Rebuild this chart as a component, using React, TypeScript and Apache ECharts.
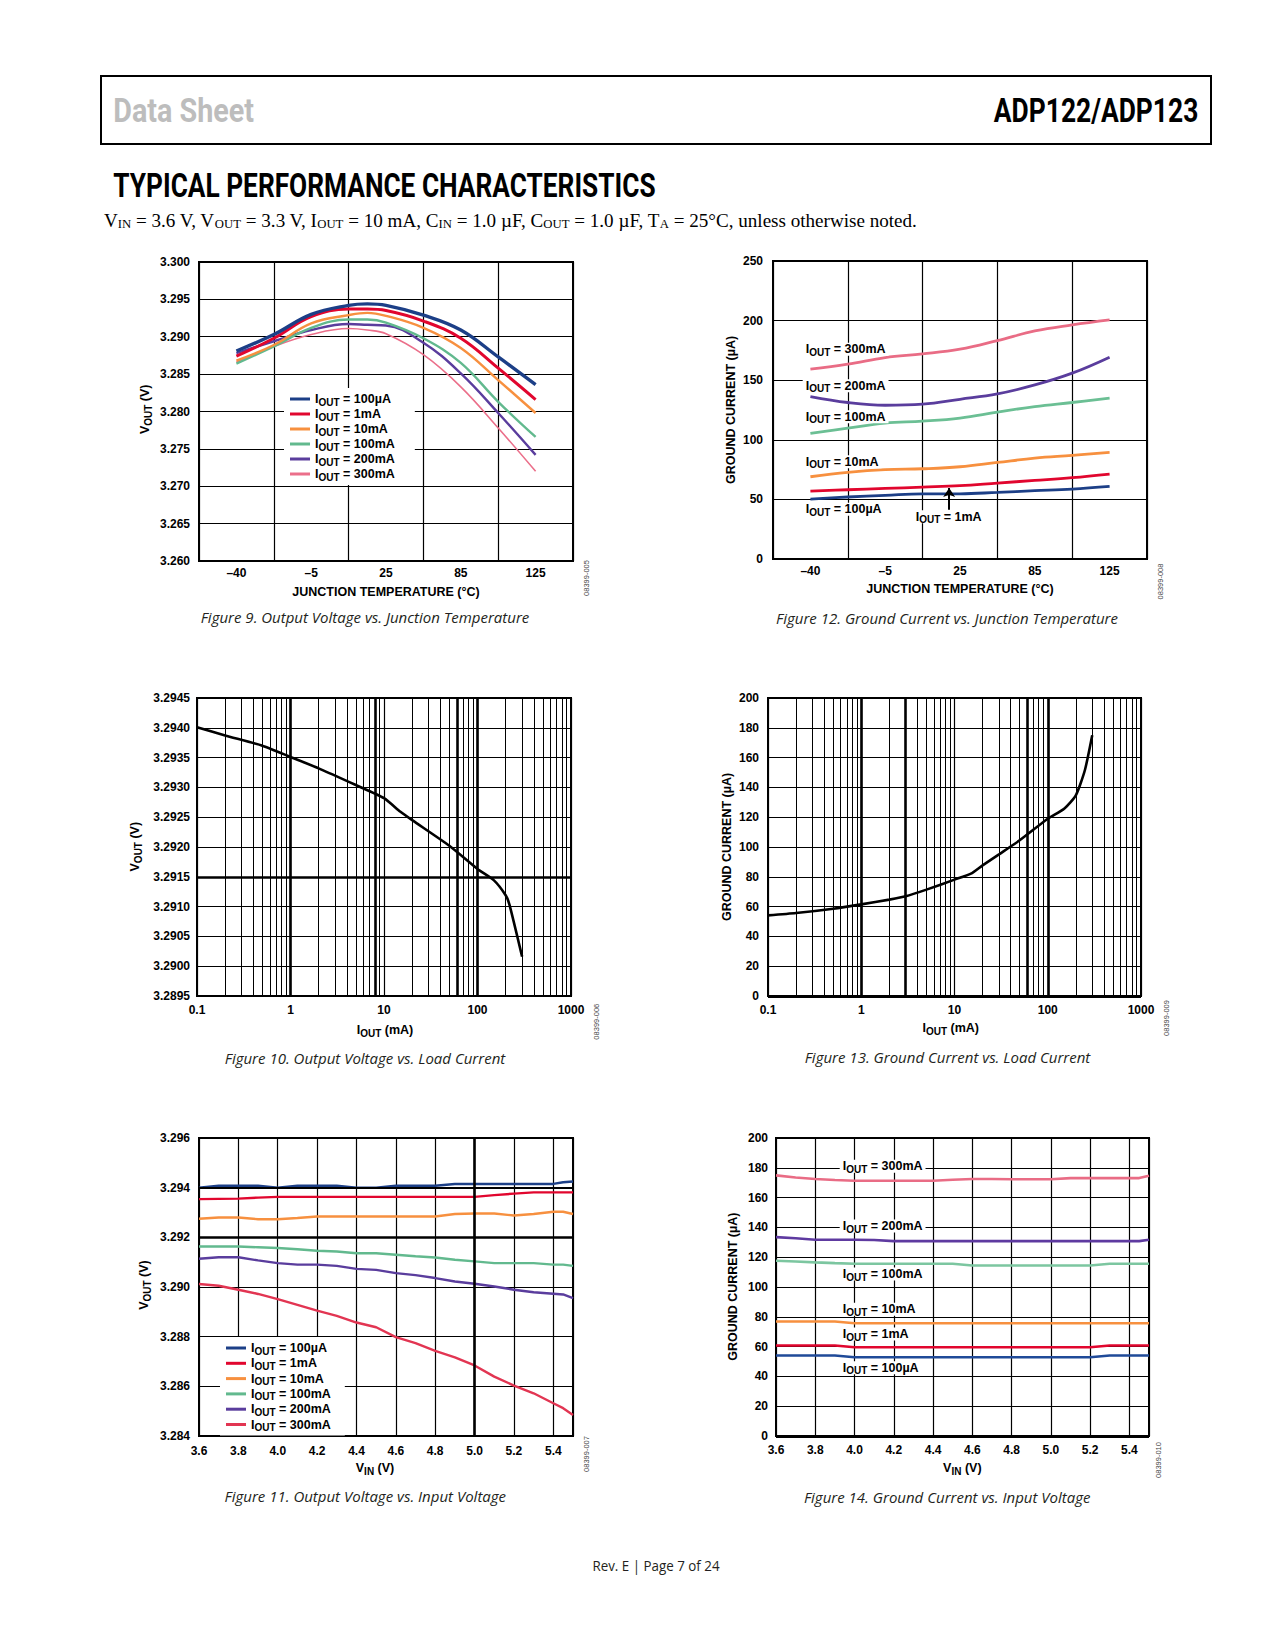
import React, { useEffect, useRef } from 'react';
import * as echarts from 'echarts';

const SANS = '"Liberation Sans", Arial, Helvetica, sans-serif';
const COND = 'Roboto, "Liberation Sans", Arial, sans-serif';
const HUM = '"Open Sans", "Noto Sans", sans-serif';
const SERIF = '"Liberation Serif", "Times New Roman", serif';

// ---------- shared ----------
const currentNames = ['100µA', '1mA', '10mA', '100mA', '200mA', '300mA'];

// ---------- Figure 9: Output Voltage vs. Junction Temperature ----------
const fig9TempLabels = ['–40', '–5', '25', '85', '125'];
const fig9Pos = [0, 0.5, 1, 1.5, 1.75, 2, 2.5, 3, 3.5, 4];
const fig9V100uA = [3.2881, 3.2903, 3.2930, 3.2942, 3.2944, 3.2942, 3.2929, 3.2909, 3.2873, 3.2836];
const fig9V1mA = [3.2874, 3.2898, 3.2927, 3.2937, 3.2937, 3.2935, 3.2921, 3.2898, 3.2858, 3.2816];
const fig9V10mA = [3.2868, 3.2889, 3.2918, 3.2929, 3.2932, 3.2928, 3.2912, 3.2885, 3.2842, 3.2798];
const fig9V100mA = [3.2864, 3.2887, 3.2912, 3.2923, 3.2923, 3.2919, 3.2898, 3.2865, 3.2813, 3.2766];
const fig9V200mA = [3.2878, 3.2894, 3.2909, 3.2917, 3.2916, 3.2915, 3.2892, 3.2851, 3.2798, 3.2742];
const fig9V300mA = [3.2866, 3.2887, 3.2903, 3.2911, 3.2909, 3.2904, 3.2876, 3.2833, 3.2778, 3.2720];

// ---------- Figure 12: Ground Current vs. Junction Temperature ----------
const fig12TempLabels = ['–40', '–5', '25', '85', '125'];
const fig12Pos = [0, 0.5, 1, 1.5, 2, 2.5, 3, 3.5, 4];
const fig12I100uA = [50.3, 52.0, 53.4, 54.7, 54.7, 55.9, 57.3, 58.7, 60.9];
const fig12I1mA = [57.0, 58.1, 59.2, 60.3, 61.5, 63.7, 65.9, 68.2, 71.2];
const fig12I10mA = [69.0, 72.6, 74.9, 75.7, 77.4, 81.0, 84.6, 86.9, 89.4];
const fig12I100mA = [105.3, 109.8, 114.0, 115.6, 118.2, 123.2, 127.9, 131.3, 134.9];
const fig12I200mA = [136.3, 131.3, 129.0, 129.9, 134.0, 138.5, 146.0, 155.9, 169.3];
const fig12I300mA = [159.2, 163.4, 169.0, 172.0, 176.0, 183.2, 191.3, 196.4, 200.6];

// ---------- Figure 10: Output Voltage vs. Load Current ----------
const fig10Iout = [0.1, 0.2, 0.5, 1, 2, 5, 10, 15, 20, 50, 100, 150, 200, 220, 300];
const fig10Vout = [3.29401, 3.29387, 3.2937, 3.29351, 3.29332, 3.29304, 3.29282, 3.29259, 3.29245, 3.29202, 3.29163, 3.29144, 3.29119, 3.29103, 3.29016];

// ---------- Figure 13: Ground Current vs. Load Current ----------
const fig13Iout = [0.1, 0.2, 0.5, 1, 2, 3, 5, 10, 15, 20, 30, 50, 100, 150, 200, 250, 300];
const fig13Ignd = [54.1, 55.7, 58.6, 61.5, 64.7, 66.9, 71.4, 78.1, 82.1, 87.7, 95.1, 104.5, 119.0, 125.7, 134.7, 151.5, 175.0];

// ---------- Figure 11 / 14: vs. Input Voltage ----------
const vinPts = [3.6, 3.7, 3.8, 3.9, 4.0, 4.1, 4.2, 4.3, 4.4, 4.5, 4.6, 4.7, 4.8, 4.9, 5.0, 5.1, 5.2, 5.3, 5.4, 5.45, 5.5];
const fig11V100uA = [3.294, 3.29408, 3.29408, 3.29408, 3.294, 3.29408, 3.29408, 3.29408, 3.294, 3.294, 3.29408, 3.29408, 3.29408, 3.29415, 3.29415, 3.29415, 3.29415, 3.29415, 3.29415, 3.29422, 3.29425];
const fig11V1mA = [3.29354, 3.29355, 3.29356, 3.2936, 3.29363, 3.29363, 3.29363, 3.29363, 3.29363, 3.29363, 3.29363, 3.29363, 3.29363, 3.29363, 3.29363, 3.2937, 3.29376, 3.29381, 3.29381, 3.29381, 3.29381];
const fig11V10mA = [3.29275, 3.2928, 3.2928, 3.29273, 3.29273, 3.29278, 3.29284, 3.29284, 3.29284, 3.29284, 3.29284, 3.29284, 3.29284, 3.29294, 3.29296, 3.29296, 3.29288, 3.29294, 3.29303, 3.29303, 3.29294];
const fig11V100mA = [3.29163, 3.29163, 3.29163, 3.2916, 3.29157, 3.29152, 3.29146, 3.29143, 3.29136, 3.29136, 3.2913, 3.29124, 3.29119, 3.2911, 3.29103, 3.29096, 3.29096, 3.29096, 3.2909, 3.2909, 3.29085];
const fig11V200mA = [3.29114, 3.2912, 3.2912, 3.29107, 3.29096, 3.2909, 3.2909, 3.29085, 3.29073, 3.29069, 3.29056, 3.29048, 3.29036, 3.29022, 3.29013, 3.29002, 3.28989, 3.28979, 3.28973, 3.2897, 3.28955];
const fig11V300mA = [3.29012, 3.29005, 3.28989, 3.28972, 3.28951, 3.28928, 3.28905, 3.28884, 3.28857, 3.28838, 3.28798, 3.28774, 3.28743, 3.28717, 3.28684, 3.28639, 3.28603, 3.28572, 3.28532, 3.28512, 3.28485];

const fig14I100uA = [54, 54, 54, 54, 52.9, 52.9, 52.9, 52.9, 52.9, 52.9, 52.9, 52.9, 52.9, 52.9, 52.9, 52.9, 52.9, 54, 54, 54, 54];
const fig14I1mA = [60.7, 60.7, 60.7, 60.7, 59.6, 59.6, 59.6, 59.6, 59.6, 59.6, 59.6, 59.6, 59.6, 59.6, 59.6, 59.6, 59.6, 60.7, 60.7, 60.7, 60.7];
const fig14I10mA = [76.8, 76.8, 76.8, 76.8, 75.7, 75.7, 75.7, 75.7, 75.7, 75.7, 75.7, 75.7, 75.7, 75.7, 75.7, 75.7, 75.7, 75.7, 75.7, 75.7, 75.7];
const fig14I100mA = [117.6, 117.1, 116.5, 116.0, 115.6, 115.6, 115.6, 115.6, 115.6, 115.6, 114.4, 114.4, 114.4, 114.4, 114.4, 114.4, 114.4, 115.6, 115.6, 115.6, 115.6];
const fig14I200mA = [133.5, 132.7, 131.7, 131.7, 131.7, 131.5, 130.8, 130.8, 130.8, 130.8, 130.8, 130.8, 130.8, 130.8, 130.8, 130.8, 130.8, 130.8, 130.8, 130.8, 131.7];
const fig14I300mA = [174.9, 173.5, 172.5, 171.8, 171.3, 171.3, 171.3, 171.3, 171.3, 172.0, 172.5, 172.5, 172.3, 172.3, 172.3, 173.1, 173.1, 173.1, 173.1, 173.1, 174.7];

// ---------- styles ----------
const NAVY = '#1c3f87';
const RED = '#e1062e';
const ORANGE = '#f7903f';
const GREEN = '#62b98e';
const PURPLE = '#5a3d9d';
const PINK = '#eb6f8a';
const CRIMSON = '#e23552';

const SPLIT = { show: true, lineStyle: { color: '#000', width: 1.2, type: 'solid' } };
const LABEL = { color: '#000', fontFamily: SANS, fontWeight: 'bold', fontSize: 12 };

const RICH = {
  a: { fontFamily: SANS, fontWeight: 'bold', fontSize: 12.5, lineHeight: 13, color: '#000', fill: '#000' },
  b: { fontFamily: SANS, fontWeight: 'bold', fontSize: 10, lineHeight: 7, padding: [6, 0, 0, 0], color: '#000', fill: '#000' },
};
const iout = (c: string) => `{a|I}{b|OUT}{a| = ${c}}`;

function line(name: string, xs: number[], ys: number[], axis: number, color: string, width: number, smooth: number | boolean, extra: any = {}) {
  return {
    type: 'line', name, xAxisIndex: axis, yAxisIndex: extra.yAxisIndex ?? 0,
    data: xs.map((x, i) => [x, ys[i]]),
    showSymbol: false, symbol: 'none', smooth, silent: true,
    lineStyle: { color, width }, itemStyle: { color },
    emphasis: { disabled: true }, z: 3,
    ...extra,
  };
}

function markLines(data: any[]) {
  return {
    silent: true, symbol: ['none', 'none'], label: { show: false }, emphasis: { disabled: true },
    precision: 8, animation: false, lineStyle: { color: '#000', width: 1, type: 'solid' }, data,
  };
}

function logMinor() {
  const out: number[] = [];
  [0.1, 1, 10, 100].forEach((d) => {
    [2, 3, 4, 5, 6, 7, 8, 9].forEach((m) => out.push(+(d * m).toPrecision(3)));
  });
  return out;
}

function T(x: number, y: number, text: string, o: any = {}) {
  const align = o.align || 'center';
  return {
    type: 'text', x, y, z: 60, silent: true,
    rotation: o.rotation || 0, scaleX: o.scaleX || 1, scaleY: o.scaleY || 1,
    style: {
      text,
      fill: o.fill || '#000',
      fontFamily: o.family || SANS,
      fontSize: o.size || 12,
      fontWeight: o.weight || 'normal',
      fontStyle: o.fstyle || 'normal',
      align, textAlign: align,
      verticalAlign: 'middle', textVerticalAlign: 'middle',
      rich: o.rich,
      backgroundColor: o.bg,
      padding: o.padding,
    },
  };
}

function buildOption() {
  const grids = [
    { left: 199, top: 262, width: 374, height: 299 },
    { left: 773, top: 261, width: 374, height: 298 },
    { left: 197, top: 698, width: 374, height: 298 },
    { left: 768, top: 698, width: 373, height: 298 },
    { left: 199, top: 1138, width: 374, height: 298 },
    { left: 776, top: 1138, width: 373, height: 298 },
  ].map((g) => ({ ...g, show: true, borderColor: '#000', borderWidth: 2, backgroundColor: 'transparent', containLabel: false }));

  const hidden = { axisLine: { show: false, onZero: false }, axisTick: { show: false } };
  const catAxis = (gi: number, data: string[]) => ({
    type: 'category', gridIndex: gi, data, position: 'bottom', boundaryGap: true,
    axisLine: { show: false }, axisTick: { show: false }, splitLine: { show: false },
    axisLabel: { ...LABEL, margin: 6, interval: 0 },
  });
  const fmtLog = (v: number) => (v < 1 ? v.toFixed(1) : String(Math.round(v)));

  const xAxis = [
    { type: 'value', gridIndex: 0, min: 0, max: 5, interval: 1, ...hidden, splitLine: SPLIT, axisLabel: { show: false } },
    catAxis(0, fig9TempLabels),
    { type: 'value', gridIndex: 1, min: 0, max: 5, interval: 1, ...hidden, splitLine: SPLIT, axisLabel: { show: false } },
    catAxis(1, fig12TempLabels),
    { type: 'log', gridIndex: 2, min: 0.1, max: 1000, logBase: 10, ...hidden, splitLine: SPLIT, axisLabel: { ...LABEL, margin: 8, formatter: fmtLog } },
    { type: 'log', gridIndex: 3, min: 0.1, max: 1000, logBase: 10, ...hidden, splitLine: SPLIT, axisLabel: { ...LABEL, margin: 8, formatter: fmtLog } },
    { type: 'value', gridIndex: 4, min: 3.6, max: 5.5, interval: 0.2, ...hidden, splitLine: SPLIT, axisLabel: { ...LABEL, margin: 9, showMaxLabel: false, formatter: (v: number) => v.toFixed(1) } },
    { type: 'value', gridIndex: 5, min: 3.6, max: 5.5, interval: 0.2, ...hidden, splitLine: SPLIT, axisLabel: { ...LABEL, margin: 8, showMaxLabel: false, formatter: (v: number) => v.toFixed(1) } },
  ];

  const yA = (gi: number, min: number, max: number, interval: number, dec: number, margin: number) => ({
    type: 'value', gridIndex: gi, min, max, interval, ...hidden, splitLine: SPLIT,
    axisLabel: { ...LABEL, margin, formatter: (v: number) => v.toFixed(dec) },
  });
  const yAxis = [
    yA(0, 3.26, 3.3, 0.005, 3, 9),
    yA(1, 0, 250, 50, 0, 10),
    yA(2, 3.2895, 3.2945, 0.0005, 4, 7),
    yA(3, 0, 200, 20, 0, 9),
    yA(4, 3.284, 3.296, 0.002, 3, 9),
    yA(5, 0, 200, 20, 0, 8),
  ];

  const series: any[] = [];
  const thick = (w: number) => ({ color: '#000', width: w, type: 'solid' });

  // Fig 9
  const f9 = [fig9V100uA, fig9V1mA, fig9V10mA, fig9V100mA, fig9V200mA, fig9V300mA];
  const f9c = [NAVY, RED, ORANGE, GREEN, PURPLE, PINK];
  const f9w = [3.4, 3, 2.4, 2.4, 2.4, 1.6];
  for (let k = 5; k >= 0; k--) {
    series.push(line(`fig9:${currentNames[k]}`, fig9Pos.map((p) => p + 0.5), f9[k], 0, f9c[k], f9w[k], 0.4, { yAxisIndex: 0 }));
  }

  // Fig 12
  const f12 = [fig12I100uA, fig12I1mA, fig12I10mA, fig12I100mA, fig12I200mA, fig12I300mA];
  const f12c = [NAVY, RED, ORANGE, '#6bbf94', PURPLE, '#e96c85'];
  for (let k = 5; k >= 0; k--) {
    const extra: any = { yAxisIndex: 1 };
    if (k === 1) {
      extra.markLine = {
        silent: true, symbol: ['none', 'arrow'], symbolSize: 9, label: { show: false }, emphasis: { disabled: true },
        precision: 8, lineStyle: thick(2),
        data: [[{ coord: [2.355, 41.3] }, { coord: [2.355, 59.5] }]],
      };
    }
    series.push(line(`fig12:${currentNames[k]}`, fig12Pos.map((p) => p + 0.5), f12[k], 2, f12c[k], 2.8, 0.4, extra));
  }

  // Fig 10
  const minor = logMinor();
  series.push(line('fig10', fig10Iout, fig10Vout, 4, '#000', 2.6, 0.2, {
    yAxisIndex: 2,
    markLine: markLines([
      ...minor.map((v) => ({ xAxis: v })),
      ...[1, 8, 60, 100].map((v) => ({ xAxis: v, lineStyle: thick(2.6) })),
      { yAxis: 3.2915, lineStyle: thick(2.6) },
    ]),
  }));

  // Fig 13
  series.push(line('fig13', fig13Iout, fig13Ignd, 5, '#000', 2.6, 0.2, {
    yAxisIndex: 3,
    markLine: markLines([
      ...minor.map((v) => ({ xAxis: v })),
      ...[1, 3, 60, 100].map((v) => ({ xAxis: v, lineStyle: thick(2.6) })),
      { yAxis: 0, lineStyle: thick(3) },
    ]),
  }));

  // Fig 11
  const f11 = [fig11V100uA, fig11V1mA, fig11V10mA, fig11V100mA, fig11V200mA, fig11V300mA];
  const f11c = [NAVY, RED, ORANGE, GREEN, PURPLE, CRIMSON];
  for (let k = 5; k >= 0; k--) {
    const extra: any = { yAxisIndex: 4 };
    if (k === 5) {
      extra.markLine = markLines([
        { xAxis: 5.0, lineStyle: thick(2.6) },
        { yAxis: 3.292, lineStyle: thick(2.6) },
        { yAxis: 3.294, lineStyle: thick(1.8) },
      ]);
    }
    series.push(line(`fig11:${currentNames[k]}`, vinPts, f11[k], 6, f11c[k], 2.4, false, extra));
  }

  // Fig 14
  const f14 = [fig14I100uA, fig14I1mA, fig14I10mA, fig14I100mA, fig14I200mA, fig14I300mA];
  const f14c = ['#1f4a98', RED, ORANGE, '#7cc6a0', '#5e3aa0', '#e96c85'];
  for (let k = 5; k >= 0; k--) {
    const extra: any = { yAxisIndex: 5 };
    if (k === 5) {
      extra.markLine = markLines([{ yAxis: 0, lineStyle: thick(3) }]);
    }
    series.push(line(`fig14:${currentNames[k]}`, vinPts, f14[k], 7, f14c[k], 2.6, false, extra));
  }

  const legendBase = {
    orient: 'vertical', backgroundColor: '#fff', itemWidth: 20, itemHeight: 3, icon: 'rect',
    selectedMode: false, z: 20,
    textStyle: { fontFamily: SANS, fontWeight: 'bold', fontSize: 12.5, color: '#000', rich: RICH },
    formatter: (name: string) => iout(name.split(':')[1]),
  };
  const legend = [
    { ...legendBase, data: currentNames.map((c) => `fig9:${c}`), left: 284, top: 388, padding: [3, 20, 3, 6], itemGap: -1 },
    { ...legendBase, data: currentNames.map((c) => `fig11:${c}`), left: 220, top: 1337, padding: [3, 14, 3, 6], itemGap: -0.7 },
  ];

  const SUB = RICH;
  const SUBT = {
    n: { fontFamily: SERIF, fontSize: 18, lineHeight: 19, fill: '#000', color: '#000' },
    s: { fontFamily: SERIF, fontSize: 12, lineHeight: 12, padding: [7, 0, 0, 0], fill: '#000', color: '#000' },
  };
  const R90 = Math.PI / 2;
  const boldT = (x: number, y: number, text: string, rot = 0) => T(x, y, text, { size: 12.5, weight: 'bold', rotation: rot });
  const richT = (x: number, y: number, text: string, rot = 0) => T(x, y, text, { rich: SUB, rotation: rot });
  const caption = (x: number, y: number, text: string) => T(x, y, text, { family: HUM, size: 15, fstyle: 'italic', scaleX: 1.0, fill: '#231f20' });
  const code = (x: number, y: number, text: string) => T(x, y, text, { size: 7.5, fill: '#444', rotation: R90 });
  const note = (x: number, y: number, c: string) => T(x - 3, y, iout(c), { rich: SUB, align: 'left', bg: '#fff', padding: [0, 3, 0, 3] });

  const subtitle =
    '{n|V}{s|IN}{n| = 3.6 V, V}{s|OUT}{n| = 3.3 V, I}{s|OUT}{n| = 10 mA, C}{s|IN}{n| = 1.0 µF, C}{s|OUT}{n| = 1.0 µF, T}{s|A}{n| = 25°C, unless otherwise noted.}';

  const elements: any[] = [
    { type: 'rect', z: 60, silent: true, shape: { x: 101, y: 76, width: 1110, height: 68 }, style: { fill: 'none', stroke: '#000', lineWidth: 2 } },
    T(113.3, 110.3, 'Data Sheet', { family: COND, size: 33, weight: 'bold', fill: '#bdbdbd', align: 'left', scaleX: 0.87 }),
    T(1198.3, 110.3, 'ADP122/ADP123', { family: COND, size: 33, weight: 'bold', fill: '#000', align: 'right', scaleX: 0.8 }),
    T(113.3, 185.2, 'TYPICAL PERFORMANCE CHARACTERISTICS', { family: COND, size: 33.5, weight: 'bold', fill: '#000', align: 'left', scaleX: 0.784 }),
    T(104, 221, subtitle, { rich: SUBT, align: 'left', scaleX: 1.061 }),

    // Fig 9
    richT(145, 409.3, '{a|V}{b|OUT}{a| (V)}', R90),
    boldT(386, 591.7, 'JUNCTION TEMPERATURE (°C)'),
    caption(365, 616.7, 'Figure 9. Output Voltage vs. Junction Temperature'),
    code(586.7, 578, '08399-005'),

    // Fig 12
    boldT(730.7, 410, 'GROUND CURRENT (µA)', R90),
    boldT(960, 589.3, 'JUNCTION TEMPERATURE (°C)'),
    caption(947, 618.3, 'Figure 12. Ground Current vs. Junction Temperature'),
    code(1160.7, 581.5, '08399-008'),
    note(805.7, 349.3, '300mA'),
    note(805.7, 385.7, '200mA'),
    note(805.7, 416.7, '100mA'),
    note(805.7, 461.7, '10mA'),
    note(805.7, 509.3, '100µA'),
    note(915.7, 516.7, '1mA'),

    // Fig 10
    richT(135, 846.7, '{a|V}{b|OUT}{a| (V)}', R90),
    richT(385, 1030, '{a|I}{b|OUT}{a| (mA)}'),
    caption(365, 1058.3, 'Figure 10. Output Voltage vs. Load Current'),
    code(596.7, 1021.7, '08399-006'),

    // Fig 13
    boldT(726.7, 847, 'GROUND CURRENT (µA)', R90),
    richT(950.7, 1028.3, '{a|I}{b|OUT}{a| (mA)}'),
    caption(947.5, 1057.3, 'Figure 13. Ground Current vs. Load Current'),
    code(1166.7, 1018, '08399-009'),

    // Fig 11
    richT(144, 1285, '{a|V}{b|OUT}{a| (V)}', R90),
    richT(375, 1468.3, '{a|V}{b|IN}{a| (V)}'),
    caption(365.3, 1495.7, 'Figure 11. Output Voltage vs. Input Voltage'),
    code(586.7, 1454, '08399-007'),

    // Fig 14
    boldT(733.3, 1286.7, 'GROUND CURRENT (µA)', R90),
    richT(962.3, 1468.3, '{a|V}{b|IN}{a| (V)}'),
    caption(947.2, 1497.3, 'Figure 14. Ground Current vs. Input Voltage'),
    code(1158.3, 1460, '08399-010'),
    note(842.7, 1166.3, '300mA'),
    note(842.7, 1226, '200mA'),
    note(842.7, 1274, '100mA'),
    note(842.7, 1309.3, '10mA'),
    note(842.7, 1334, '1mA'),
    note(842.7, 1367.7, '100µA'),

    // footer
    T(656, 1565, 'Rev. E | Page 7 of 24', { family: HUM, size: 14, fill: '#231f20', scaleX: 0.955 }),
  ];

  return {
    animation: false,
    backgroundColor: '#fff',
    grid: grids,
    xAxis,
    yAxis,
    legend,
    series,
    graphic: { elements },
  };
}

export default function App() {
  const ref = useRef<HTMLDivElement>(null);
  useEffect(() => {
    if (!ref.current) return;
    const chart = echarts.init(ref.current, null, { renderer: 'svg' });
    chart.setOption(buildOption() as any);
    return () => chart.dispose();
  }, []);
  return (
    <div
      ref={ref}
      style={{ position: 'absolute', left: 0, top: 0, width: 1275, height: 1650, background: '#fff' }}
    />
  );
}
